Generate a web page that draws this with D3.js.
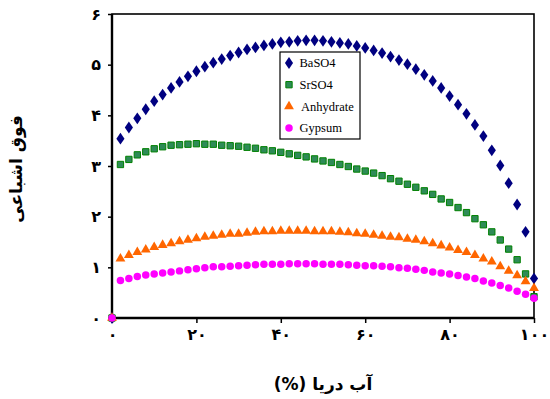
<!DOCTYPE html>
<html>
<head>
<meta charset="utf-8">
<script src="https://cdn.jsdelivr.net/npm/d3@7"></script>
<style>
  body { margin: 0; background: #fff; }
  .axis text { font-family: "DejaVu Sans", sans-serif; font-weight: bold; font-size: 16px; fill: #000; }
  .axis line { stroke: #000; stroke-width: 1.5; }
  .axis path { display: none; }
  .label { font-family: "DejaVu Sans", sans-serif; font-weight: bold; fill: #000; }
  .legend text { font-family: "Liberation Serif", serif; font-size: 12.5px; fill: #000; }
</style>
</head>
<body>
<div id="chart"></div>
<script>
// sea water percent: 0, 2, 4 ... 100
var seaWater = d3.range(0, 101, 2)
var xTicks = [0, 20, 40, 60, 80, 100]
var yTicks = [0, 1, 2, 3, 4, 5, 6]

var baso4 = [0, 3.54, 3.76, 3.94, 4.12, 4.28, 4.41, 4.54, 4.66, 4.77, 4.87, 4.96, 5.04, 5.11, 5.18, 5.24, 5.30, 5.34, 5.38, 5.41, 5.44,
  5.45, 5.47, 5.48, 5.48, 5.47, 5.45, 5.43, 5.41, 5.37, 5.33, 5.28, 5.23, 5.16, 5.09, 5.01, 4.91, 4.80, 4.68, 4.54, 4.38,
  4.21, 4.03, 3.81, 3.59, 3.31, 3.01, 2.66, 2.24, 1.70, 0.78]
var srso4 = [0, 3.03, 3.13, 3.22, 3.28, 3.34, 3.38, 3.41, 3.42, 3.43, 3.44, 3.43, 3.43, 3.41, 3.40, 3.39, 3.37, 3.35,
  3.32, 3.30, 3.27, 3.24, 3.21, 3.18, 3.14, 3.10, 3.07, 3.03, 2.99, 2.94, 2.90, 2.86, 2.81, 2.75, 2.70,
  2.64, 2.58, 2.51, 2.44, 2.35, 2.28, 2.18, 2.08, 1.96, 1.84, 1.70, 1.54, 1.36, 1.15, 0.87, 0.42]
var anhydrate = [0, 1.17, 1.24, 1.30, 1.35, 1.40, 1.44, 1.47, 1.51, 1.54, 1.57, 1.60, 1.62, 1.64, 1.66, 1.66, 1.68, 1.70,
  1.71, 1.71, 1.72, 1.72, 1.72, 1.72, 1.71, 1.71, 1.71, 1.70, 1.69, 1.67, 1.66, 1.64, 1.62, 1.60, 1.59,
  1.56, 1.54, 1.51, 1.47, 1.43, 1.39, 1.34, 1.30, 1.24, 1.17, 1.11, 1.02, 0.93, 0.84, 0.72, 0.59]
var gypsum = [0, 0.74, 0.78, 0.82, 0.85, 0.87, 0.89, 0.91, 0.93, 0.95, 0.97, 0.99, 1.01, 1.01, 1.02, 1.03, 1.04, 1.05,
  1.06, 1.06, 1.06, 1.07, 1.07, 1.07, 1.07, 1.06, 1.06, 1.06, 1.05, 1.04, 1.03, 1.03, 1.02, 1.01, 0.99,
  0.98, 0.96, 0.94, 0.91, 0.89, 0.87, 0.84, 0.81, 0.78, 0.73, 0.69, 0.64, 0.59, 0.53, 0.47, 0.39]

var seriesNames = ["BaSO4", "SrSO4", "Anhydrate", "Gypsum"]
var seriesValues = [baso4, srso4, anhydrate, gypsum]

var outerWidth = 550, outerHeight = 399
var margin = {top: 14, right: 16, bottom: 81, left: 112}
var plotWidth = outerWidth - margin.left - margin.right
var plotHeight = outerHeight - margin.top - margin.bottom

var x = d3.scaleLinear().domain([0, 100]).range([0, plotWidth])
var y = d3.scaleLinear().domain([0, 6]).range([plotHeight, 0])

var fa = function(n) {
  return String(n).replace(/\d/g, function(c) { return "۰۱۲۳۴۵۶۷۸۹"[+c] })
}

var svg = d3.select("#chart")
    .append("svg")
      .attr("width", outerWidth)
      .attr("height", outerHeight)
    .append("g")
      .attr("transform", "translate(" + margin.left + "," + margin.top + ")")

// axes
svg.append("g")
    .classed("axis", true)
    .attr("transform", "translate(0," + plotHeight + ")")
    .call(d3.axisBottom(x).tickValues(xTicks).tickSize(5).tickPadding(6).tickFormat(fa))

svg.append("g")
    .classed("axis", true)
    .call(d3.axisLeft(y).tickValues(yTicks).tickSize(4).tickPadding(7).tickFormat(fa))

// frame
svg.append("rect")
    .attr("width", plotWidth)
    .attr("height", plotHeight)
    .attr("fill", "none")
    .attr("stroke", "#000")
    .attr("stroke-width", 1.6)

svg.append("line")
    .attr("x1", 0).attr("x2", 0)
    .attr("y1", 0).attr("y2", plotHeight)
    .attr("stroke", "#000").attr("stroke-width", 2.4)
svg.append("line")
    .attr("x1", 0).attr("x2", plotWidth)
    .attr("y1", plotHeight).attr("y2", plotHeight)
    .attr("stroke", "#000").attr("stroke-width", 2.4)

// markers
var styles = [
  {sym: d3.symbolDiamond, size: 40, fill: "#000080", stroke: "none"},
  {sym: d3.symbolSquare, size: 40, fill: "#2e8b57", stroke: "#008000"},
  {sym: d3.symbolTriangle, size: 42, fill: "#ff6600", stroke: "none"},
  {sym: d3.symbolCircle, size: 44, fill: "#ff00ff", stroke: "none"}
]

seriesValues.forEach(function(vals, i) {
  var st = styles[i]
  svg.append("g")
    .selectAll("path")
    .data(vals)
    .enter().append("path")
      .attr("d", d3.symbol().type(st.sym).size(st.size))
      .attr("transform", function(d, j) {
        return "translate(" + x(seaWater[j]) + "," + y(d) + ")" + (i == 0 ? " scale(1.2,1)" : "")
      })
      .attr("fill", st.fill)
      .attr("stroke", st.stroke)
      .attr("stroke-width", 1)
})

// legend
var legend = svg.append("g")
    .classed("legend", true)
    .attr("transform", "translate(" + (280 - margin.left) + "," + (52 - margin.top) + ")")

legend.append("rect")
    .attr("width", 80)
    .attr("height", 87)
    .attr("fill", "#fff")
    .attr("stroke", "#000")
    .attr("stroke-width", 1.2)

seriesNames.forEach(function(name, i) {
  var st = styles[i]
  var row = legend.append("g").attr("transform", "translate(0," + (11 + i * 21.7) + ")")
  row.append("path")
    .attr("d", d3.symbol().type(st.sym).size(st.size))
    .attr("transform", "translate(9,0)" + (i == 0 ? " scale(1.2,1)" : ""))
    .attr("fill", st.fill)
    .attr("stroke", st.stroke)
  row.append("text")
    .attr("x", i == 2 ? 21 : 19.5)
    .attr("dy", "0.35em")
    .text(name)
})

// axis labels
svg.append("text")
    .classed("label", true)
    .attr("text-anchor", "middle")
    .attr("direction", "rtl")
    .attr("x", plotWidth / 2)
    .attr("y", plotHeight + 72)
    .style("font-size", "17px")
    .text("آب دریا (%)")

svg.append("text")
    .classed("label", true)
    .attr("text-anchor", "middle")
    .attr("direction", "rtl")
    .attr("transform", "translate(" + (-90) + "," + (169 - margin.top) + ") rotate(-90)")
    .style("font-size", "17px")
    .text("فوق اشباعی")
</script>
</body>
</html>
